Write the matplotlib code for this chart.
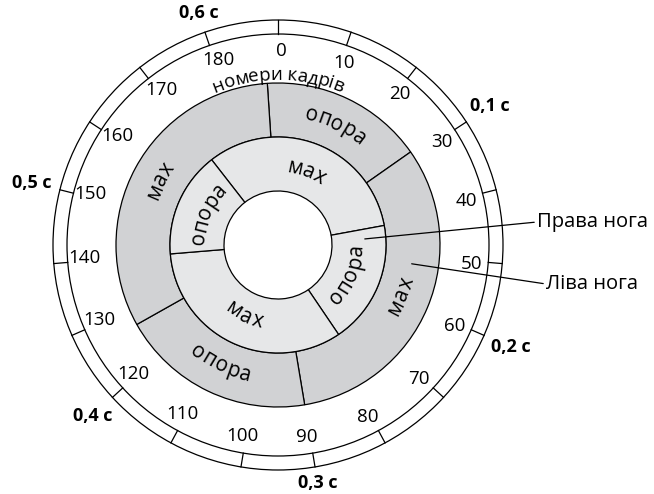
import numpy as np
import matplotlib
matplotlib.use('Agg')
import matplotlib.pyplot as plt
from matplotlib.patches import Wedge, Circle
from matplotlib.font_manager import FontProperties

FONT = 'Open Sans'

# cycle length in frames (full circle)
CYCLE = 190
frame_ticks = [0, 10, 20, 30, 40, 50, 60, 70, 80, 90, 100, 110, 120, 130, 140, 150, 160, 170, 180]
time_frames = [30, 60, 90, 120, 150, 180]
time_labels = ['0,1 с', '0,2 с', '0,3 с', '0,4 с', '0,5 с', '0,6 с']

# left leg (outer ring) phases, in frames
left_start = [-2, 29, 90, 127]
left_end = [29, 90, 127, 188]
left_phase = ['опора', 'мах', 'опора', 'мах']

# right leg (inner ring) phases, in frames
right_start = [-20, 42, 77, 140]
right_end = [42, 77, 140, 170]
right_phase = ['мах', 'опора', 'мах', 'опора']

DARK = '#d1d2d4'
LIGHT = '#e6e7e8'
LW = 0.9

fig = plt.figure(figsize=(6.54, 4.94), dpi=100)
ax = fig.add_axes([0, 0, 1, 1])
ax.set_xlim(0, 654)
ax.set_ylim(0, 494)
ax.axis('off')

CX, CY = 278, 249
renderer = fig.canvas.get_renderer()


def ang(f):
    return f * 360.0 / CYCLE


def polar(a, r):
    t = np.radians(a)
    return CX + r * np.sin(t), CY + r * np.cos(t)


def arc_text(text, a_c, r, size, weight='normal', tracking=0.0):
    prop = FontProperties(family=FONT, size=size, weight=weight)
    w = lambda s: renderer.get_text_width_height_descent(s, prop, ismath=False)[0]
    total = w(text) + tracking * (len(text) - 1)
    bottom = 90 < a_c % 360 < 270
    for i, ch in enumerate(text):
        if ch == ' ':
            continue
        s = w(text[:i + 1]) - w(ch) / 2 + tracking * i
        d = np.degrees((s - total / 2) / r)
        if bottom:
            a = a_c - d
            rot = 180 - a
        else:
            a = a_c + d
            rot = -a
        x, y = polar(a, r)
        ax.text(x, y, ch, rotation=rot, rotation_mode='anchor', ha='center',
                va='center', fontproperties=prop)


# leg rings
for s, e, lab in zip(left_start, left_end, left_phase):
    ax.add_patch(Wedge((CX, CY), 162, 90 - ang(e), 90 - ang(s), width=54,
                       facecolor=DARK, edgecolor='black', lw=LW))
    arc_text(lab, ang((s + e) / 2), 134, 15, tracking=0.8)

for s, e, lab in zip(right_start, right_end, right_phase):
    ax.add_patch(Wedge((CX, CY), 108, 90 - ang(e), 90 - ang(s), width=54,
                       facecolor=LIGHT, edgecolor='black', lw=LW))
    arc_text(lab, ang((s + e) / 2), 79, 15, tracking=0.8)

# frame scale ring
ax.add_patch(Circle((CX, CY), 225, fill=False, edgecolor='black', lw=LW))
ax.add_patch(Circle((CX, CY), 211, fill=False, edgecolor='black', lw=LW))
for f in frame_ticks:
    x0, y0 = polar(ang(f), 211)
    x1, y1 = polar(ang(f), 225)
    ax.plot([x0, x1], [y0, y1], color='black', lw=LW)
    x, y = polar(ang(f) + 1, 194)
    ax.text(x, y, str(f), ha='center', va='center', fontsize=13.5, family=FONT)

for f, lab in zip(time_frames, time_labels):
    a = np.radians(ang(f))
    r = 231 + abs(np.sin(a)) * 22 + abs(np.cos(a)) * 7
    x, y = polar(ang(f), r)
    ax.text(x, y, lab, ha='center', va='center', fontsize=13,
            family=FONT, fontweight='bold')

arc_text('номери кадрів', 0, 170, 13.5)

arrow = dict(arrowstyle='-', lw=LW, color='black', shrinkA=0, shrinkB=0, relpos=(0, 0.5))
ax.annotate('Права нога', xy=polar(86, 87), xytext=(537, 494 - 222), ha='left',
            va='center', fontsize=14.5, family=FONT, arrowprops=arrow)
ax.annotate('Ліва нога', xy=polar(98, 135), xytext=(546, 494 - 284), ha='left',
            va='center', fontsize=14.5, family=FONT, arrowprops=arrow)

fig.savefig('out.png', dpi=100)
